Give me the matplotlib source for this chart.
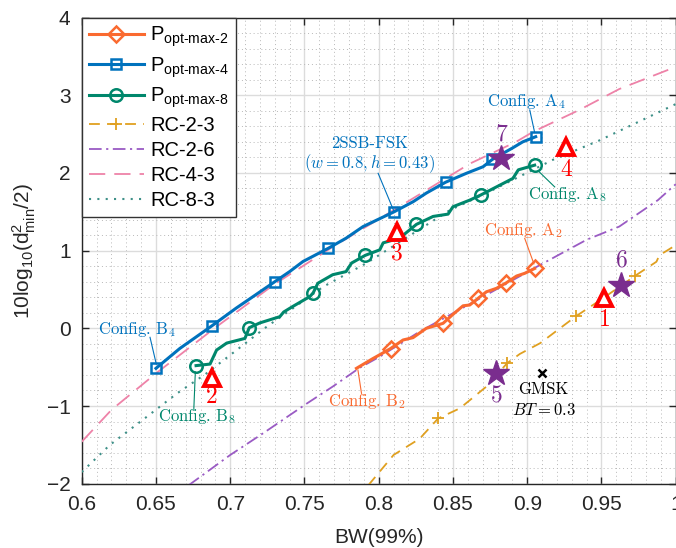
import matplotlib
matplotlib.use("Agg")
import matplotlib.pyplot as plt
from matplotlib.ticker import MultipleLocator

plt.rcParams['font.family'] = ['Liberation Sans', 'DejaVu Sans']
plt.rcParams['mathtext.fontset'] = 'custom'
plt.rcParams['mathtext.rm'] = 'Liberation Sans'
plt.rcParams['mathtext.it'] = 'Liberation Sans:italic'
plt.rcParams['mathtext.bf'] = 'Liberation Sans:bold'

# ---------------- data ----------------
p2_x = [0.785, 0.796, 0.8007, 0.808, 0.8164, 0.8231, 0.832, 0.8433, 0.850, 0.8568,
        0.8613, 0.8669, 0.8725, 0.8793, 0.886, 0.8928, 0.8983, 0.905]
p2_y = [-0.515, -0.39, -0.34, -0.26, -0.15, -0.12, 0.0, 0.064, 0.18, 0.29,
        0.30, 0.386, 0.47, 0.515, 0.587, 0.673, 0.708, 0.77]
p2_mk = [3, 7, 11, 14, 17]

p4_x = [0.650, 0.666, 0.6875, 0.704, 0.7155, 0.730, 0.740, 0.749, 0.766, 0.778,
        0.7895, 0.8104, 0.8232, 0.832, 0.845, 0.859, 0.8703, 0.8766, 0.890, 0.897, 0.9057]
p4_y = [-0.515, -0.26, 0.03, 0.26, 0.41, 0.60, 0.73, 0.86, 1.03, 1.16,
        1.31, 1.50, 1.63, 1.74, 1.88, 1.995, 2.08, 2.175, 2.32, 2.40, 2.466]
p4_mk = [0, 2, 5, 8, 11, 14, 17, 20]

p8_x = [0.677, 0.6864, 0.6908, 0.6976, 0.7099, 0.7128, 0.720, 0.7334, 0.736, 0.742,
        0.7537, 0.7559, 0.759, 0.769, 0.778, 0.7817, 0.791, 0.8007, 0.803, 0.814,
        0.8254, 0.8366, 0.8467, 0.850, 0.8613, 0.8687, 0.8813, 0.8904, 0.894, 0.905]
p8_y = [-0.48, -0.46, -0.28, -0.19, -0.13, 0.008, 0.07, 0.15, 0.21, 0.28,
        0.41, 0.458, 0.58, 0.69, 0.73, 0.84, 0.94, 1.01, 1.10, 1.16,
        1.338, 1.44, 1.47, 1.565, 1.65, 1.716, 1.84, 1.93, 2.04, 2.10]
p8_mk = [0, 5, 11, 16, 20, 25, 29]

rc23_x = [0.793, 0.81, 0.8276, 0.84, 0.8546, 0.8725, 0.8864, 0.895, 0.9088, 0.933,
          0.951, 0.9724, 0.987, 0.989, 1.0]
rc23_y = [-2.02, -1.63, -1.42, -1.16, -1.03, -0.75, -0.45, -0.33, -0.19, 0.158,
          0.386, 0.673, 0.857, 0.94, 1.07]
rc23_mk = [3, 6, 9, 11]

rc26_x = [0.672, 0.700, 0.7222, 0.7514, 0.769, 0.787, 0.8007, 0.8277, 0.8725, 0.9062,
          0.94, 0.962, 0.988, 1.0]
rc26_y = [-2.02, -1.63, -1.35, -0.97, -0.75, -0.51, -0.365, -0.04, 0.43, 0.79,
          1.14, 1.31, 1.65, 1.855]

rc43_x = [0.6, 0.62, 0.65, 0.69, 0.73, 0.77, 0.81, 0.8614, 0.8925, 0.904, 0.935, 0.962, 1.0]
rc43_y = [-1.46, -1.05, -0.58, 0.01, 0.57, 1.06, 1.52, 2.12, 2.40, 2.53, 2.81, 3.08, 3.365]

rc83_x = [0.6, 0.619, 0.6437, 0.664, 0.684, 0.7043, 0.7245, 0.7424, 0.7626, 0.7918,
          0.8478, 0.8725, 0.9174, 0.9488, 1.0]
rc83_y = [-1.85, -1.50, -1.14, -0.84, -0.58, -0.28, 0.02, 0.26, 0.535, 0.84,
          1.52, 1.74, 2.17, 2.42, 2.886]

tri_x = [0.952, 0.6875, 0.812, 0.9264]
tri_y = [0.386, -0.64, 1.24, 2.33]
tri_lbl = ['1', '2', '3', '4']
tri_lbl_y = [0.107, -0.88, 0.965, 2.04]

star_x = [0.8793, 0.9634, 0.8826]
star_y = [-0.58, 0.557, 2.19]
star_lbl = ['5', '6', '7']
star_lbl_y = [-0.88, 0.88, 2.49]

gmsk_x = [0.91]
gmsk_y = [-0.57]

xticks = [0.6, 0.65, 0.7, 0.75, 0.8, 0.85, 0.9, 0.95, 1.0]
xticklabels = ['0.6', '0.65', '0.7', '0.75', '0.8', '0.85', '0.9', '0.95', '1']
yticks = [-2, -1, 0, 1, 2, 3, 4]

# ---------------- colours ----------------
c_p2 = '#FA6A30'
c_p4 = '#0072BD'
c_p8 = '#00876C'
c_rc23 = '#E0A020'
c_rc26 = '#9A5BC4'
c_rc43 = '#EE82A8'
c_rc83 = '#3E9088'
c_star = '#7A2D8E'
c_tri = '#FF0000'

fig = plt.figure(figsize=(6.76, 5.48), dpi=100)
ax = fig.add_axes([0.1209, 0.1173, 0.8787, 0.8507])

ax.plot(p2_x, p2_y, color=c_p2, lw=2.2, marker='D', ms=8, mfc='none', mew=1.8,
        markevery=p2_mk, label=r'P$_{\text{opt-max-2}}$', zorder=5)
ax.plot(p4_x, p4_y, color=c_p4, lw=2.2, marker='s', ms=7, mfc='none', mew=1.8,
        markevery=p4_mk, label=r'P$_{\text{opt-max-4}}$', zorder=5)
ax.plot(p8_x, p8_y, color=c_p8, lw=2.2, marker='o', ms=9, mfc='none', mew=1.8,
        markevery=p8_mk, label=r'P$_{\text{opt-max-8}}$', zorder=5)
ax.plot(rc23_x, rc23_y, color=c_rc23, lw=1.3, dashes=(6, 4), marker='+', ms=9, mew=1.3,
        markevery=rc23_mk, label='RC-2-3', zorder=4)
ax.plot(rc26_x, rc26_y, color=c_rc26, lw=1.3, dashes=(7, 2.5, 1.2, 2.5),
        label='RC-2-6', zorder=4)
ax.plot(rc43_x, rc43_y, color=c_rc43, lw=1.3, dashes=(9, 5), label='RC-4-3', zorder=4)
ax.plot(rc83_x, rc83_y, color=c_rc83, lw=1.5, dashes=(1, 3), label='RC-8-3', zorder=4)

# special points
ax.plot(tri_x, tri_y, ls='none', marker='^', ms=12, mfc='white', mec=c_tri, mew=2.8, zorder=7)
ax.plot(star_x, star_y, ls='none', marker='*', ms=19, color=c_star, zorder=7)
ax.plot(gmsk_x, gmsk_y, ls='none', marker='x', ms=5.5, mew=1.8, color='black', zorder=7)

num_kw = dict(fontfamily='cmr10', fontsize=17, ha='center', va='center', zorder=8)
for x, y, t in zip(tri_x, tri_lbl_y, tri_lbl):
    ax.text(x, y, t, color=c_tri, **num_kw)
for x, y, t in zip(star_x, star_lbl_y, star_lbl):
    ax.text(x, y, t, color=c_star, **num_kw)

ann_kw = dict(fontfamily='cmr10', math_fontfamily='cm', fontsize=12,
              ha='center', va='center', zorder=8)
ax.text(0.911, -0.79, 'GMSK', color='black', **ann_kw)
ax.text(0.911, -1.05, r'$BT=0.3$', color='black', **ann_kw)

ax.text(0.794, 2.38, '2SSB-FSK', color=c_p4, **ann_kw)
ax.text(0.794, 2.12, r'($w=0.8,h=0.43$)', color=c_p4, **ann_kw)
ax.plot([0.7996, 0.8104], [1.995, 1.50], color=c_p4, lw=0.8, zorder=6)

ax.text(0.8995, 2.92, r'Config. A$_4$', color=c_p4, **ann_kw)
ax.plot([0.9017, 0.9050], [2.81, 2.52], color=c_p4, lw=0.8, zorder=6)

ax.text(0.927, 1.716, r'Config. A$_8$', color=c_p8, **ann_kw)
ax.plot([0.908, 0.9185], [2.015, 1.82], color=c_p8, lw=0.8, zorder=6)

ax.text(0.8972, 1.265, r'Config. A$_2$', color=c_p2, **ann_kw)
ax.plot([0.8983, 0.9045], [1.158, 0.83], color=c_p2, lw=0.8, zorder=6)

ax.text(0.637, -0.01, r'Config. B$_4$', color=c_p4, **ann_kw)
ax.plot([0.646, 0.6502], [-0.116, -0.46], color=c_p4, lw=0.8, zorder=6)

ax.text(0.6774, -1.14, r'Config. B$_8$', color=c_p8, **ann_kw)
ax.plot([0.6765, 0.6755], [-0.56, -1.03], color=c_p8, lw=0.8, zorder=6)

ax.text(0.7923, -0.945, r'Config. B$_2$', color=c_p2, **ann_kw)
ax.plot([0.786, 0.7884], [-0.537, -0.837], color=c_p2, lw=0.8, zorder=6)

# axes styling
ax.set_xlim(0.6, 1.0)
ax.set_ylim(-2, 4)
ax.set_xticks(xticks)
ax.set_xticklabels(xticklabels)
ax.set_yticks(yticks)
ax.xaxis.set_minor_locator(MultipleLocator(0.01))
ax.yaxis.set_minor_locator(MultipleLocator(0.2))
ax.grid(which='major', color='#DCDCDC', lw=1.0, zorder=0)
ax.grid(which='minor', color='#B8B8B8', lw=0.7, ls=(0, (1, 3)), zorder=0)
ax.set_axisbelow(True)
ax.tick_params(which='major', direction='in', length=5, width=1, top=True, right=True,
               labelsize=15, color='#262626', labelcolor='#262626', pad=8)
ax.tick_params(which='minor', length=0, top=True, right=True)
for s in ax.spines.values():
    s.set_color('#262626')
    s.set_linewidth(1.0)

ax.set_xlabel('BW(99%)', fontsize=15, color='#262626', labelpad=10)
ax.set_ylabel(r'10log$_{10}$(d$^{2}_{\text{min}}$/2)', fontsize=15, color='#262626', labelpad=6)

leg = ax.legend(loc='upper left', bbox_to_anchor=(0, 1), borderaxespad=0,
                fontsize=14.5, handlelength=2.75, handletextpad=0.3, labelspacing=0.3,
                borderpad=0.35, fancybox=False, framealpha=1, edgecolor='#333333')
leg.get_frame().set_linewidth(1.0)
leg.set_zorder(10)

fig.savefig('out.png', dpi=100)
